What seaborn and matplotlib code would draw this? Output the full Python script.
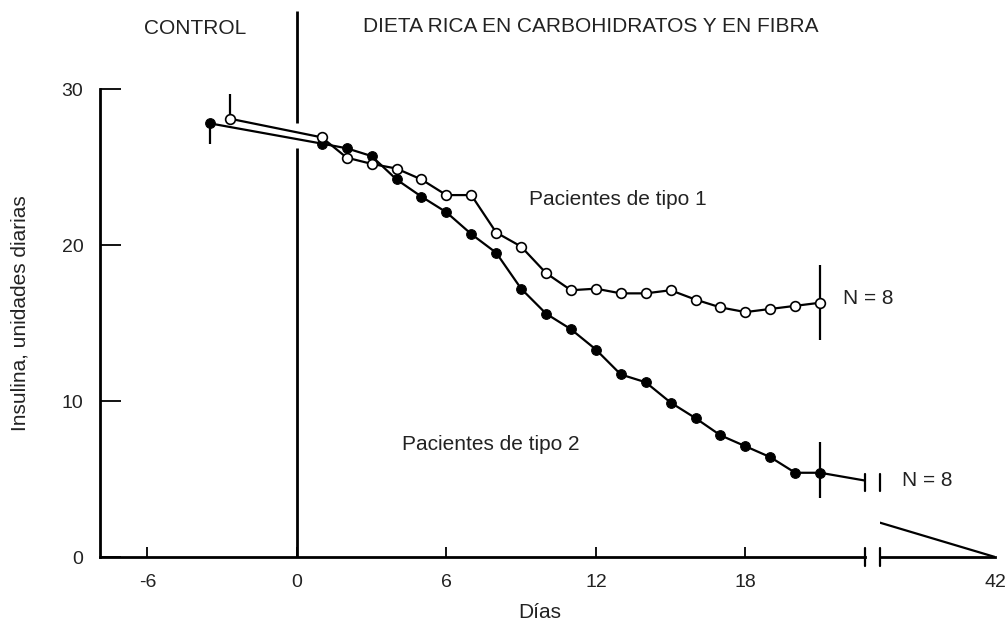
import numpy as np
import pandas as pd
import matplotlib
matplotlib.use("Agg")
import matplotlib.pyplot as plt
import seaborn as sns

# ---------------- data ----------------
days_t1 = [-2.7, 1, 2, 3, 4, 5, 6, 7, 8, 9, 10, 11, 12, 13, 14, 15, 16, 17, 18, 19, 20, 21]
ins_t1 = [28.1, 26.9, 25.6, 25.2, 24.9, 24.2, 23.2, 23.2, 20.8, 19.9, 18.2, 17.1, 17.2,
          16.9, 16.9, 17.1, 16.5, 16.0, 15.7, 15.9, 16.1, 16.3]

days_t2 = [-3.5, 1, 2, 3, 4, 5, 6, 7, 8, 9, 10, 11, 12, 13, 14, 15, 16, 17, 18, 19, 20, 21]
ins_t2 = [27.8, 26.5, 26.2, 25.7, 24.2, 23.1, 22.1, 20.7, 19.5, 17.2, 15.6, 14.6, 13.3,
          11.7, 11.2, 9.9, 8.9, 7.8, 7.1, 6.4, 5.4, 5.4]
tail_days_t2 = [21, 22.8]
tail_ins_t2 = [5.4, 4.9]
late_days_t2 = [37.5, 42]
late_ins_t2 = [2.2, 0.0]

# error bars: (day, low, high)
err_t1 = [(-2.7, 28.1, 29.7), (21, 13.9, 18.7)]
err_t2 = [(-3.5, 26.5, 27.8), (21, 3.8, 7.4)]

xticks_left = [-6, 0, 6, 12, 18]
xticks_right = [42]
yticks = [0, 10, 20, 30]

# ---------------- plot ----------------
sns.set_theme(style="white")
plt.rcParams['font.family'] = ['Liberation Sans', 'DejaVu Sans']
W, H = 1008, 627
fig = plt.figure(figsize=(W / 100, H / 100), dpi=100)

bottom = 1 - 557 / H
top = 1 - 11 / H
axL = fig.add_axes([100 / W, bottom, (865 - 100) / W, top - bottom])
axR = fig.add_axes([880 / W, bottom, (995 - 880) / W, top - bottom])

lw = 1.6
df1 = pd.DataFrame({"dia": days_t1, "insulina": ins_t1})
df2 = pd.DataFrame({"dia": days_t2, "insulina": ins_t2})
dft = pd.DataFrame({"dia": tail_days_t2, "insulina": tail_ins_t2})
dfl = pd.DataFrame({"dia": late_days_t2, "insulina": late_ins_t2})

sns.lineplot(data=dft, x="dia", y="insulina", ax=axL, color="black", lw=lw)
sns.lineplot(data=df2, x="dia", y="insulina", ax=axL, color="black", lw=lw,
             marker="o", markersize=7, markerfacecolor="black", markeredgecolor="black", zorder=3)
sns.lineplot(data=df1, x="dia", y="insulina", ax=axL, color="black", lw=lw,
             marker="o", markersize=7, markerfacecolor="white", markeredgecolor="black",
             markeredgewidth=1.2, zorder=4)
sns.lineplot(data=dfl, x="dia", y="insulina", ax=axR, color="black", lw=lw)

for d, lo, hi in err_t1 + err_t2:
    axL.vlines(d, lo, hi, color="black", lw=1.6, zorder=2)

# vertical line at day 0 (with gap where the curves cross it)
axL.vlines(0, 0, 26.2, color="black", lw=2)
axL.vlines(0, 27.8, 35, color="black", lw=2, clip_on=False)

axL.set_xlim(-7.9, 22.8)
axL.set_ylim(0, 35)
axR.set_xlim(37.5, 42)
axR.set_ylim(0, 35)

for ax in (axL, axR):
    ax.set_facecolor("none")
    ax.spines["top"].set_visible(False)
    ax.spines["right"].set_visible(False)
    ax.spines["bottom"].set_color("black")
    ax.spines["bottom"].set_linewidth(2)
    ax.set_xlabel("")
    ax.set_ylabel("")
axR.spines["left"].set_visible(False)
axR.set_yticks([])
axL.spines["left"].set_color("black")
axL.spines["left"].set_linewidth(2)
axL.spines["left"].set_bounds(0, 30)

tfs = 14
axL.set_xticks(xticks_left)
axL.set_xticklabels([str(t) for t in xticks_left])
axR.set_xticks(xticks_right)
axR.set_xticklabels([str(t) for t in xticks_right])
axL.set_yticks(yticks)
axL.set_yticklabels([str(t) for t in yticks])
axL.tick_params(axis="x", direction="in", length=7, width=1.3, colors="black",
                labelsize=tfs, labelcolor="#222222", pad=12, bottom=True)
axR.tick_params(axis="x", direction="in", length=0, labelsize=tfs, labelcolor="#222222",
                pad=12, bottom=True)
axL.tick_params(axis="y", direction="in", length=15, width=1.3, colors="black",
                labelsize=tfs, labelcolor="#222222", pad=12, left=True)

# axis break marks
axL.plot([22.8, 22.8], [-0.6, 0.6], color="black", lw=1.6, clip_on=False)
axR.plot([37.5, 37.5], [-0.6, 0.6], color="black", lw=1.6, clip_on=False)
axL.plot([22.8, 22.8], [4.2, 5.3], color="black", lw=1.6, clip_on=False)
axR.plot([37.5, 37.5], [4.2, 5.3], color="black", lw=1.6, clip_on=False)

# texts
tc = "#222222"
fs = 15
axL.text(-4.1, 33.9, "CONTROL", ha="center", va="center", fontsize=fs, color=tc)
axL.text(11.8, 34.0, "DIETA RICA EN CARBOHIDRATOS Y EN FIBRA", ha="center", va="center",
         fontsize=fs, color=tc)
axL.text(12.9, 22.9, "Pacientes de tipo 1", ha="center", va="center", fontsize=fs, color=tc)
axL.text(7.8, 7.2, "Pacientes de tipo 2", ha="center", va="center", fontsize=fs, color=tc)
axL.text(21.9, 16.6, "N = 8", ha="left", va="center", fontsize=fs, color=tc)
fig.text(902 / W, 1 - 480 / H, "N = 8", ha="left", va="center", fontsize=fs, color=tc)
fig.text(540 / W, 1 - 612 / H, "Días", ha="center", va="center", fontsize=fs, color=tc)
fig.text(20 / W, 1 - 313 / H, "Insulina, unidades diarias", ha="center", va="center",
         rotation=90, fontsize=fs, color=tc)

fig.savefig("out.png", dpi=100, facecolor="white")
